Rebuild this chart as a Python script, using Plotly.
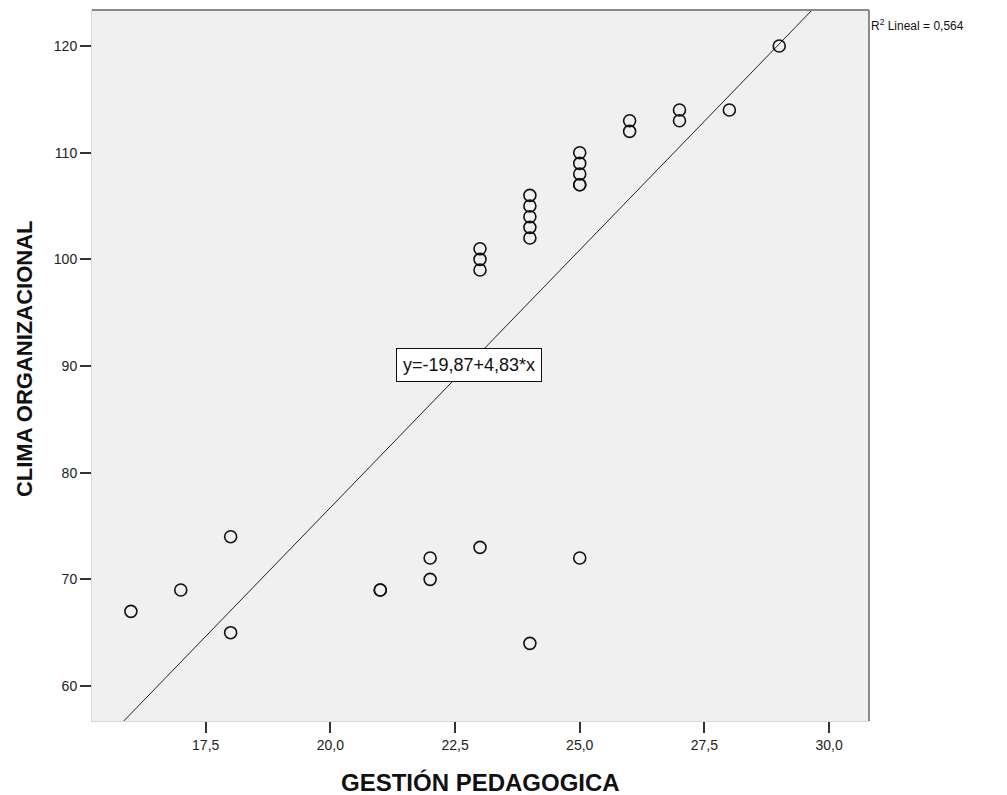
import numpy as np
import plotly.graph_objects as go

# Gestión pedagógica (x) vs clima organizacional (y), one entry per respondent
gestion = [16, 17, 18, 18, 21, 21, 22, 22, 23, 23, 23, 23, 24,
           24, 24, 24, 24, 24, 25, 25, 25, 25, 25, 25, 26, 26,
           27, 27, 28, 29]
clima = [67, 69, 74, 65, 69, 69, 72, 70, 73, 99, 100, 101, 64,
         102, 103, 104, 105, 106, 72, 107, 107, 108, 109, 110, 112, 113,
         113, 114, 114, 120]

# Linear fit reported on the chart
intercept = -19.87
slope = 4.83
r2 = 0.564

x_range = [15.22, 30.8]
y_range = [56.72, 123.38]

x_ticks = [17.5, 20.0, 22.5, 25.0, 27.5, 30.0]
y_ticks = [60, 70, 80, 90, 100, 110, 120]

x_title = "GESTIÓN PEDAGOGICA"
y_title = "CLIMA ORGANIZACIONAL"

font_family = "Arial, Liberation Sans, sans-serif"

fit_x = np.array(x_range)
fit_y = intercept + slope * fit_x

fig = go.Figure()

fig.add_trace(go.Scatter(
    x=fit_x, y=fit_y, mode="lines",
    line=dict(color="#222222", width=1),
    hoverinfo="skip", showlegend=False,
))

fig.add_trace(go.Scatter(
    x=gestion, y=clima, mode="markers",
    marker=dict(symbol="circle-open", size=12, color="#111111",
                line=dict(color="#111111", width=1.6)),
    showlegend=False,
))

# Equation label placed on the fit line
fig.add_annotation(
    x=22.78, y=90.1, xref="x", yref="y",
    text="y=-19,87+4,83*x", showarrow=False,
    font=dict(family=font_family, size=18, color="#111111"),
    bgcolor="#ffffff", bordercolor="#111111", borderwidth=1, borderpad=6,
)

# R² note to the right of the plot frame
fig.add_annotation(
    x=1.0, y=121.95, xref="x domain", yref="y",
    xanchor="left", yanchor="middle",
    text=f"R<sup>2</sup> Lineal = {str(r2).replace('.', ',')}",
    showarrow=False,
    font=dict(family=font_family, size=12, color="#111111"),
)

# Axis titles, placed relative to the plot area
fig.add_annotation(
    x=0.5, y=-0.0858, xref="paper", yref="paper",
    xanchor="center", yanchor="middle",
    text=f"<b>{x_title}</b>", showarrow=False,
    font=dict(family=font_family, size=24, color="#111111"),
)
fig.add_annotation(
    x=-0.0875, y=0.509, xref="paper", yref="paper",
    xanchor="center", yanchor="middle", textangle=-90,
    text=f"<b>{y_title}</b>", showarrow=False,
    font=dict(family=font_family, size=22, color="#111111"),
)

# Darker top and right frame edges
fig.add_shape(type="line", xref="x domain", yref="y domain",
              x0=0, x1=1, y0=1, y1=1, line=dict(color="#8a8a8a", width=2))
fig.add_shape(type="line", xref="x domain", yref="y domain",
              x0=1, x1=1, y0=0, y1=1, line=dict(color="#8a8a8a", width=2))

fig.update_layout(
    width=1007, height=795,
    margin=dict(l=92, r=138, t=10, b=74),
    paper_bgcolor="#ffffff",
    plot_bgcolor="#f0f0f0",
    separators=",.",
    font=dict(family=font_family, size=14, color="#222222"),
    xaxis=dict(
        range=x_range, tickvals=x_ticks, tickformat=".1f",
        showgrid=False, zeroline=False, automargin=False,
        showline=True, linecolor="#d8d8d8", linewidth=1,
        ticks="outside", ticklen=11, tickwidth=1.5, tickcolor="#333333",
        tickfont=dict(size=14, color="#222222"),
    ),
    yaxis=dict(
        range=y_range, tickvals=y_ticks,
        showgrid=False, zeroline=False, automargin=False,
        showline=True, linecolor="#d8d8d8", linewidth=1,
        ticks="outside", ticklen=11, tickwidth=1.5, tickcolor="#333333",
        tickfont=dict(size=14, color="#222222"),
    ),
)

fig.write_html("out.html")
